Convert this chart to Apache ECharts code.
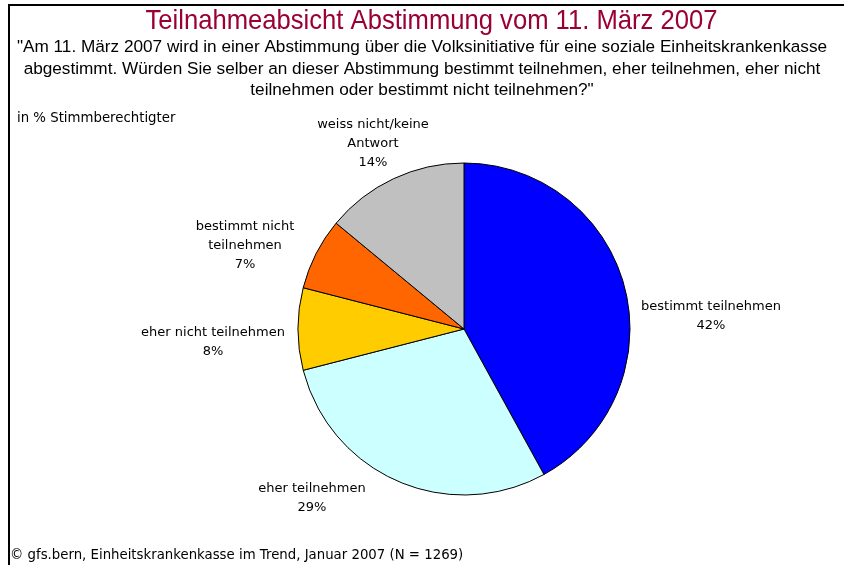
<!DOCTYPE html>
<html>
<head>
<meta charset="utf-8">
<script src="https://cdn.jsdelivr.net/npm/echarts@6/dist/echarts.min.js"></script>
<style>
html,body{margin:0;padding:0;background:#fff;}
#chart{width:844px;height:565px;}
</style>
</head>
<body>
<div id="chart"></div>
<script>
const categories = ['bestimmt teilnehmen', 'eher teilnehmen', 'eher nicht teilnehmen', 'bestimmt nicht\nteilnehmen', 'weiss nicht/keine\nAntwort'];
const values = [42, 29, 8, 7, 14];
const colors = ['#0000FF', '#CCFFFF', '#FFCC00', '#FF6600', '#C0C0C0'];

const titleText = 'Teilnahmeabsicht Abstimmung vom 11. März 2007';
const questionText = '"Am 11. März 2007 wird in einer Abstimmung über die Volksinitiative für eine soziale Einheitskrankenkasse\nabgestimmt. Würden Sie selber an dieser Abstimmung bestimmt teilnehmen, eher teilnehmen, eher nicht\nteilnehmen oder bestimmt nicht teilnehmen?"';
const unitText = 'in % Stimmberechtigter';
const sourceText = '© gfs.bern, Einheitskrankenkasse im Trend, Januar 2007 (N = 1269)';

const CX = 464, CY = 329, R = 166;
// label centre offsets relative to the pie centre
const labelOffsets = [[247, -13], [-152, 169], [-251, 13], [-219, -83], [-91, -185]];

const narrow = "'Liberation Sans Narrow', 'Arial Narrow', 'Liberation Sans', sans-serif";
const body = "'DejaVu Sans', Tahoma, sans-serif";

const chart = echarts.init(document.getElementById('chart'));
chart.setOption({
  backgroundColor: '#ffffff',
  animation: false,
  title: [
    { text: questionText, left: 'center', top: 37, padding: 0,
      textStyle: { fontFamily: narrow, fontSize: 17.2, fontWeight: 'normal', color: '#000', lineHeight: 21.5, align: 'center' } },
    { text: unitText, left: 17, top: 112, padding: 0,
      textStyle: { fontFamily: body, fontSize: 13.3, fontWeight: 'normal', color: '#000' } },
    { text: sourceText, left: 10, top: 549, padding: 0,
      textStyle: { fontFamily: body, fontSize: 13.3, fontWeight: 'normal', color: '#000' } }
  ],
  graphic: [
    { type: 'line', shape: { x1: 8, y1: 5, x2: 844, y2: 5 }, style: { stroke: '#000', lineWidth: 2 } },
    { type: 'line', shape: { x1: 9, y1: 4, x2: 9, y2: 565 }, style: { stroke: '#000', lineWidth: 2 } },
    { type: 'text', x: 431.5, y: 21, scaleX: 0.915,
      style: { text: titleText, fontFamily: narrow, fontSize: 28, fill: '#990033',
               textAlign: 'center', textVerticalAlign: 'middle' } }
  ],
  series: [{
    type: 'pie',
    center: [CX, CY],
    radius: R,
    startAngle: 90,
    clockwise: true,
    avoidLabelOverlap: false,
    itemStyle: { borderColor: '#000', borderWidth: 1 },
    emphasis: { disabled: true },
    label: {
      show: true,
      position: 'outside',
      formatter: '{b}\n{c}%',
      fontFamily: body,
      fontSize: 13,
      color: '#000',
      lineHeight: 19,
      align: 'center'
    },
    labelLine: { show: false },
    labelLayout: function (params) {
      const o = labelOffsets[params.dataIndex];
      return { x: CX + o[0], y: CY + o[1], align: 'center', verticalAlign: 'middle' };
    },
    data: categories.map((c, i) => ({ name: c, value: values[i], itemStyle: { color: colors[i] } }))
  }]
});
</script>
</body>
</html>
